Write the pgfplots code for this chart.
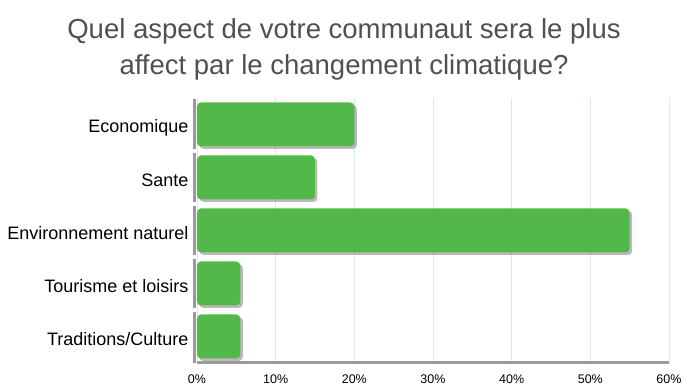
\documentclass[border=0pt]{standalone}
\usepackage{pgfplots}
\pgfplotsset{compat=1.18}
\usepackage{fontspec}
\setmainfont{Liberation Sans}
\usetikzlibrary{shadows}
\definecolor{bargreen}{HTML}{52B84A}
\definecolor{titlegray}{HTML}{4F4F57}
\definecolor{gridblue}{HTML}{DDE6F2}
\definecolor{axisgray}{HTML}{9A9A9A}
\begin{document}
\begin{tikzpicture}
\begin{axis}[
  at={(197pt,27pt)}, anchor=south west,
  scale only axis, width=472pt, height=265pt,
  xmin=0, xmax=60, ymin=0.5, ymax=5.5, y dir=reverse,
  xtick={0,10,...,60},
  xticklabel={\pgfmathprintnumber{\tick}\%},
  xticklabel style={font=\fontsize{12.5}{14}\selectfont, yshift=-8pt},
  /pgf/number format/assume math mode=true,
  ytick={1,2,3,4,5},
  yticklabels={Economique,Sante,Environnement naturel,Tourisme et loisirs,Traditions/Culture},
  yticklabel style={font=\fontsize{18}{20}\selectfont, xshift=-5pt, yshift=-3pt},
  major tick length=0pt,
  xmajorgrids, grid style={gridblue, line width=0.8pt},
  axis x line*=bottom, axis y line*=left,
  x axis line style={axisgray, line width=3pt, -},
  y axis line style={draw=none},
  xbar, bar width=44pt, bar shift=0pt,
  clip=false,
]
\addplot[fill=bargreen, draw=none, rounded corners=4pt,
  drop shadow={shadow xshift=2.5pt, shadow yshift=-2.5pt, opacity=0.45, fill=black!60}]
  coordinates {(20,1) (15,2) (55,3) (5.5,4) (5.5,5)};
\draw[axisgray, line width=3pt] ([xshift=-2pt]axis cs:0,0.51) -- ([xshift=-2pt]axis cs:0,1.47);
\draw[axisgray, line width=3pt] ([xshift=-2pt]axis cs:0,1.53) -- ([xshift=-2pt]axis cs:0,2.47);
\draw[axisgray, line width=3pt] ([xshift=-2pt]axis cs:0,2.53) -- ([xshift=-2pt]axis cs:0,3.47);
\draw[axisgray, line width=3pt] ([xshift=-2pt]axis cs:0,3.53) -- ([xshift=-2pt]axis cs:0,4.47);
\draw[axisgray, line width=3pt] ([xshift=-2pt]axis cs:0,4.53) -- ([xshift=-2pt]axis cs:0,5.5);
\end{axis}
\node[titlegray, align=center, font=\fontsize{27.5}{36}\selectfont] at (344pt,341pt) {Quel aspect de votre communaut sera le plus\\affect par le changement climatique?};
\path[use as bounding box] (0,0) rectangle (688pt,390pt);
\end{tikzpicture}
\end{document}
